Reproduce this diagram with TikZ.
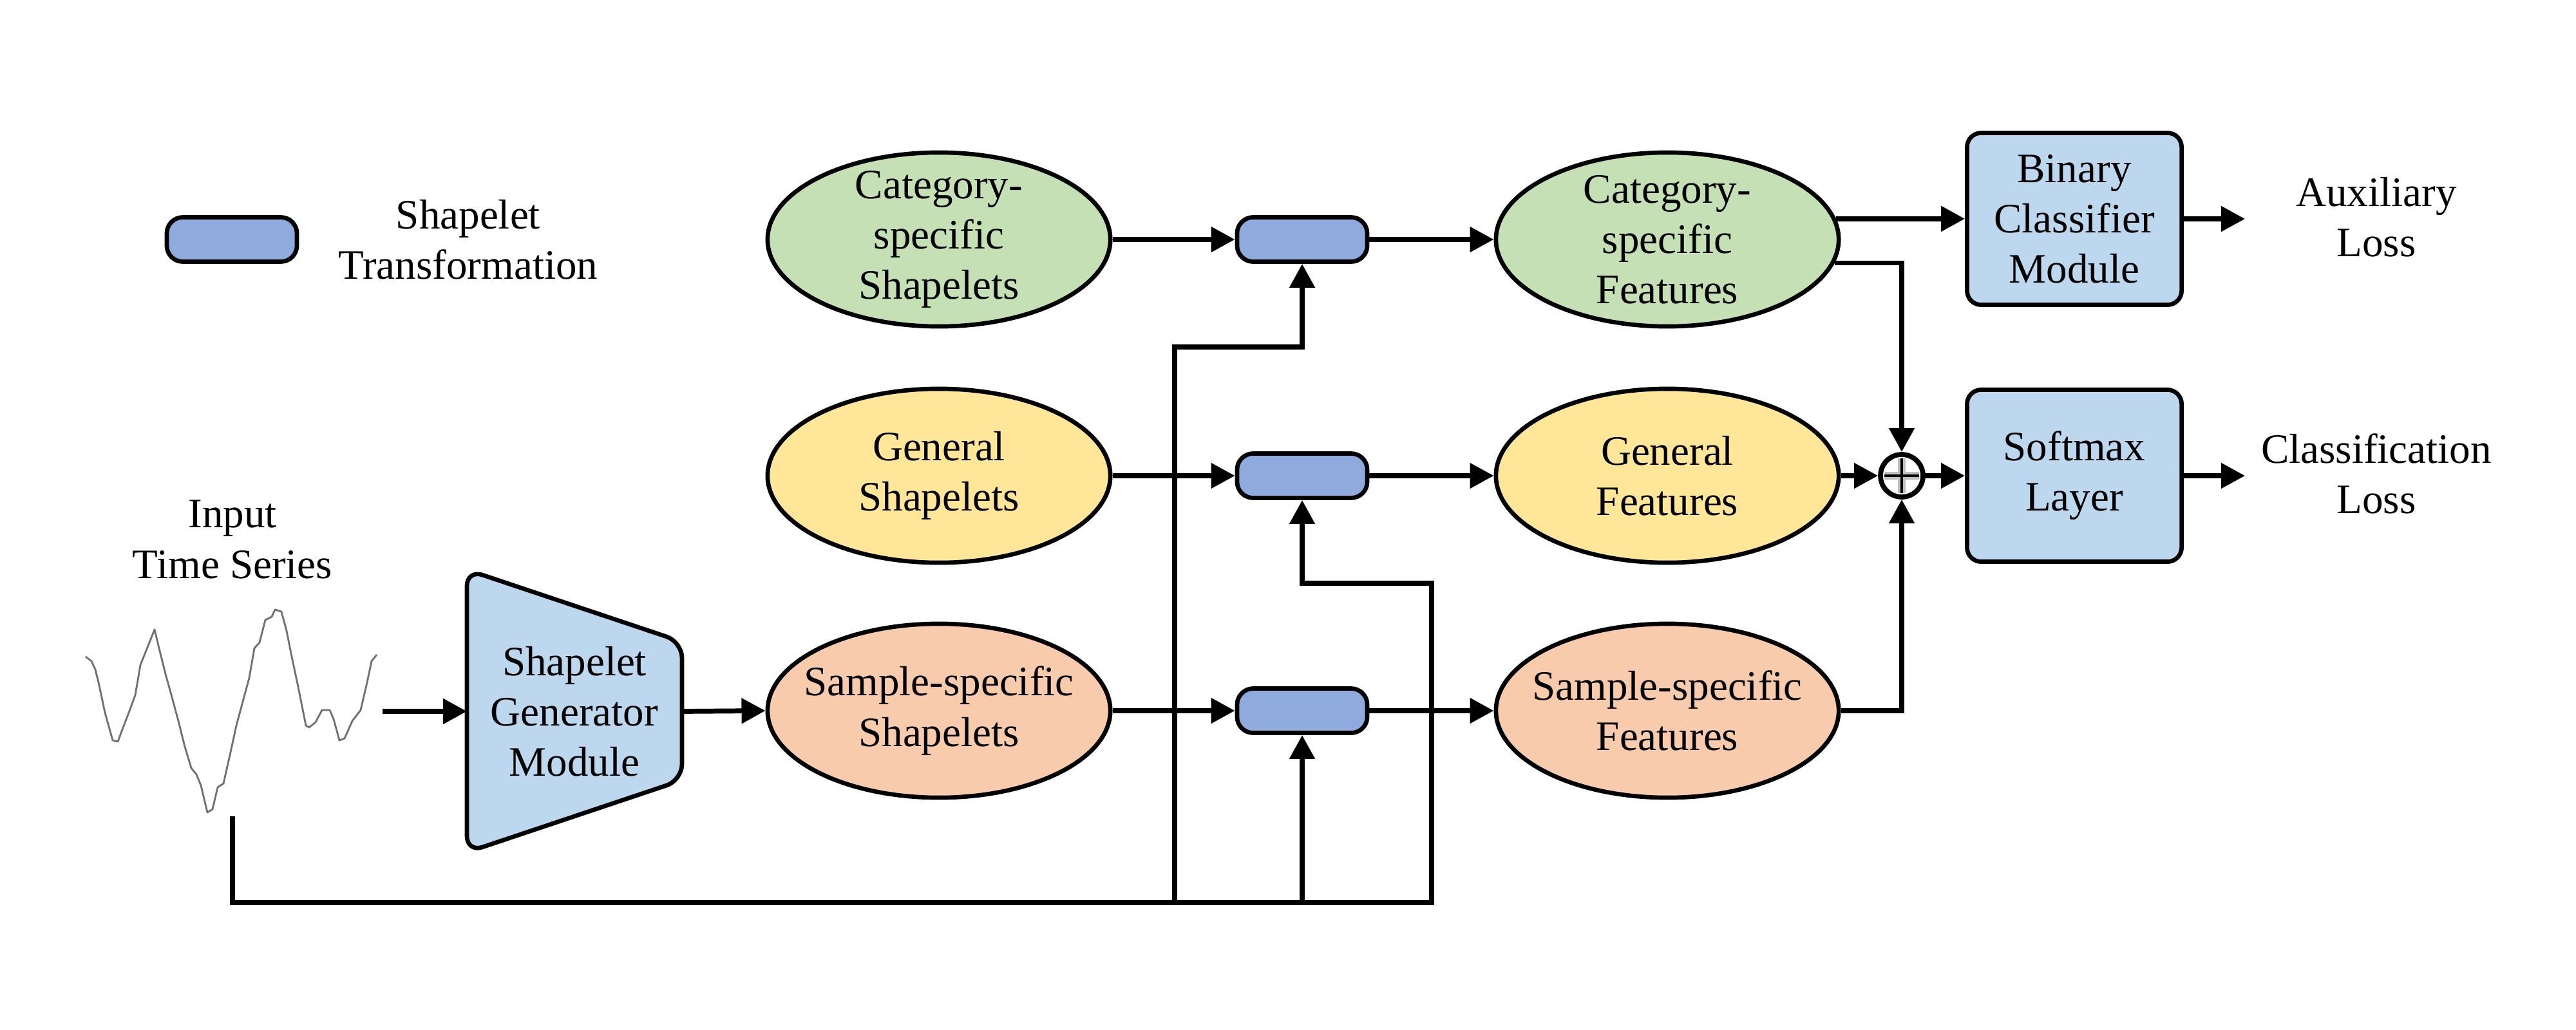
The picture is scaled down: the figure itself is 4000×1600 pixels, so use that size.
\documentclass[tikz,border=0pt]{standalone}
\usepackage{fontspec}
\setmainfont{Liberation Serif}
\usetikzlibrary{arrows.meta,shapes.geometric,calc}
\definecolor{cgreen}{HTML}{C5E0B4}
\definecolor{cyellow}{HTML}{FFE699}
\definecolor{corange}{HTML}{F8CBAD}
\definecolor{clight}{HTML}{BDD7EE}
\definecolor{cblue}{HTML}{8FAADC}
\definecolor{cwave}{HTML}{707070}
\begin{document}
\begin{tikzpicture}[x=0.01cm,y=-0.01cm,
  font=\fontsize{18.5}{22.2}\selectfont,
  ell/.style={ellipse,draw,line width=1.9pt,minimum width=5.32cm,minimum height=2.7cm,inner sep=0pt},
  tbox/.style={rectangle,rounded corners=0.25cm,draw,line width=1.9pt,fill=cblue,minimum width=2.02cm,minimum height=0.69cm,inner sep=0pt},
  mbox/.style={rectangle,rounded corners=0.22cm,draw,line width=1.9pt,fill=clight,minimum width=3.33cm,minimum height=2.67cm,align=center,inner sep=0pt},
  gbox/.style={draw,line width=1.9pt,fill=clight,rounded corners=0.25cm},
  txt/.style={align=center,inner sep=0pt},
  lbl/.style={align=center,inner sep=0pt},
  conn/.style={line width=2.2pt},
  arr/.style={line width=2.2pt,-{Triangle[length=0.37cm,width=0.38cm]}},
  wave/.style={draw=cwave,line width=0.8pt,line join=round},
  oplus/.style={circle,draw,line width=2.2pt,minimum size=0.66cm,inner sep=0pt,fill=white}]
\useasboundingbox (0,0) rectangle (4000,1600);

% legend
\node[tbox] (leg) at (360,372) {};
\node[txt] (legt) at (727,372) {Shapelet\\Transformation};

% input time series
\node[txt] (its) at (361,838) {Input\\Time Series};
\draw[wave] (133,1020) -- (142,1027) -- (148,1040) -- (153,1060) -- (163,1107) -- (175,1150) -- (183,1152) -- (190,1133) -- (200,1107) -- (210,1080) -- (218,1033) -- (230,1003) -- (240,978) -- (247,1007) -- (257,1047) -- (267,1083) -- (277,1120) -- (287,1160) -- (297,1193) -- (305,1203) -- (312,1220) -- (322,1262) -- (330,1257) -- (338,1223) -- (347,1217) -- (357,1173) -- (367,1127) -- (377,1090) -- (387,1053) -- (395,1007) -- (403,998) -- (412,963) -- (422,958) -- (427,947) -- (437,950) -- (445,980) -- (453,1020) -- (463,1067) -- (475,1127) -- (480,1130) -- (490,1122) -- (500,1103) -- (512,1103) -- (518,1117) -- (527,1150) -- (535,1147) -- (547,1120) -- (560,1103) -- (570,1060) -- (577,1027) -- (585,1017);
\coordinate (wv) at (594,1105);
\coordinate (wvb) at (361,1268);

% generator
\draw[gbox] (725,885) -- (1059,997) -- (1059,1212) -- (725,1324) -- cycle;
\node[txt] (gen) at (892,1105) {Shapelet\\Generator\\Module};
\coordinate (genW) at (725,1105);
\coordinate (genE) at (1059,1105);

% shapelet ellipses
\node[ell,fill=cgreen,label={[lbl]center:{Category-\\specific\\Shapelets}}] (cs) at (1458,372) {};
\node[ell,fill=cyellow,label={[lbl]center:{General\\Shapelets}}] (gs) at (1458,739) {};
\node[ell,fill=corange,label={[lbl]center:{Sample-specific\\Shapelets}}] (ss) at (1458,1104) {};

% transformation boxes
\node[tbox] (t1) at (2022,372) {};
\node[tbox] (t2) at (2022,739) {};
\node[tbox] (t3) at (2022,1104) {};

% feature ellipses
\node[ell,fill=cgreen,label={[lbl]center:{Category-\\specific\\Features}}] (cf) at (2589,372) {};
\node[ell,fill=cyellow,label={[lbl]center:{General\\Features}}] (gf) at (2589,739) {};
\node[ell,fill=corange,label={[lbl]center:{Sample-specific\\Features}}] (sf) at (2589,1104) {};

% oplus
\node[oplus] (ox) at (2953,739) {};
\draw[black!25,line width=3.2pt] (ox.center) ++(-27,0) -- ++(54,0) (ox.center) ++(0,-27) -- ++(0,54);
\draw[black,line width=1.2pt] (ox.center) ++(-27,0) -- ++(54,0) (ox.center) ++(0,-27) -- ++(0,54);

% right boxes
\node[mbox] (bc) at (3221,340) {Binary\\Classifier\\Module};
\node[mbox] (sm) at (3221,739) {Softmax\\Layer};
\node[txt] (aux) at (3690,337) {Auxiliary\\Loss};
\node[txt] (cls) at (3690,736) {Classification\\Loss};
\coordinate (ao) at (3486,340);
\coordinate (co) at (3486,739);

% connectors
\draw[arr] (wv) -- (genW);
\draw[arr] (genE) -- (ss.west);
\draw[arr] (cs.east) -- (t1.west);
\draw[arr] (gs.east) -- (t2.west);
\draw[arr] (ss.east) -- (t3.west);
\draw[arr] (t1.east) -- (cf.west);
\draw[arr] (t2.east) -- (gf.west);
\draw[arr] (t3.east) -- (sf.west);

\coordinate (j1) at (1824,1402);
\coordinate (j2) at (2022,1402);
\coordinate (j3) at (2223,1402);
\coordinate (k1) at (2022,539);
\coordinate (k2) at (2022,906);
\draw[arr] (wvb) |- (j3) |- (k2) -- (t2.south);
\draw[arr] (j1) |- (k1) -- (t1.south);
\draw[arr] (j2) -- (t3.south);

\draw[arr] (cf.7) -- (cf.7 -| bc.west);
\draw[arr] (cf.-8) -| (ox.north);
\draw[arr] (gf.east) -- (ox.west);
\draw[arr] (sf.east) -| (ox.south);
\draw[arr] (ox.east) -- (sm.west);
\draw[arr] (bc.east) -- (ao);
\draw[arr] (sm.east) -- (co);
\end{tikzpicture}
\end{document}
